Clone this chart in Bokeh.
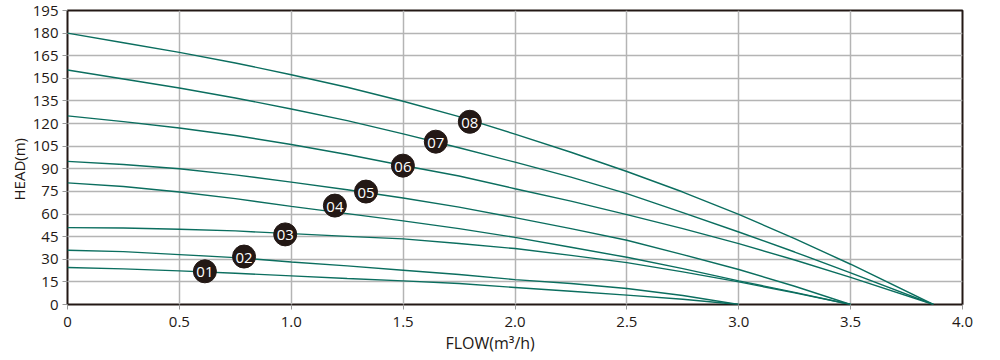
from bokeh.plotting import figure
from bokeh.models import Range1d, FixedTicker, Title, ColumnDataSource
from bokeh.core.properties import value
from bokeh.embed import file_html
from bokeh.resources import INLINE

# ---- data ----
flow_low = [0, 0.25, 0.5, 0.75, 1.0, 1.25, 1.5, 1.75, 2.0, 2.25, 2.5, 2.75, 3.0]
head_01 = [24.5, 23.6, 22.3, 20.7, 19, 17.2, 15.7, 13.9, 11.3, 8.8, 6.2, 3.5, 0]
head_02 = [36, 35.1, 33.1, 31.1, 28.2, 25.6, 22.7, 19.9, 16.5, 13.9, 10.6, 6, 0]

flow_mid = [0, 0.25, 0.5, 0.75, 1.0, 1.25, 1.5, 1.75, 2.0, 2.25, 2.5, 2.75, 3.0, 3.25, 3.5]
head_03 = [51, 50.7, 49.9, 48.8, 47, 45.2, 43.5, 40.5, 37.1, 32.6, 27.8, 21.6, 15, 7.7, 0]
head_04 = [80.7, 78.3, 74.6, 70.2, 65.1, 60.3, 55.5, 50.3, 44.5, 38, 31.3, 23.8, 15.7, 8, 0]
head_05 = [94.9, 92.9, 90, 86, 81.2, 76.1, 70.6, 64.6, 57.6, 50.3, 42.6, 33.1, 23.2, 12.1, 0]

flow_high = [0, 0.25, 0.5, 0.75, 1.0, 1.25, 1.5, 1.75, 2.0, 2.25, 2.5, 2.75, 3.0, 3.25, 3.5, 3.87]
head_06 = [125.1, 121.3, 117.1, 112.1, 106.1, 99.5, 92.2, 85.2, 76.8, 68.6, 59.6, 50.3, 40.4, 29.5, 18, 0]
head_07 = [155.5, 149.6, 143.6, 137, 129.7, 122, 113.2, 104, 94.4, 84.5, 73.5, 60.9, 48.1, 34.8, 21, 0]
head_08 = [180, 173.6, 167.2, 160.2, 152.4, 144.1, 134.8, 124.6, 113, 101, 88.2, 74.6, 59.8, 43.7, 26.7, 0]

label_names = ["01", "02", "03", "04", "05", "06", "07", "08"]
label_flow = [0.614, 0.789, 0.973, 1.195, 1.334, 1.499, 1.646, 1.798]
label_head = [22, 31.8, 46.5, 65.6, 74.9, 92.1, 108, 121.2]

x_ticks = [0, 0.5, 1.0, 1.5, 2.0, 2.5, 3.0, 3.5, 4.0]
x_tick_labels = ["0", "0.5", "1.0", "1.5", "2.0", "2.5", "3.0", "3.5", "4.0"]
y_ticks = list(range(0, 196, 15))

FONT = "Open Sans"
DARK = "#231815"
LINE = "#0b6e5f"
GRID = "#b4b4b4"

p = figure(width=986, height=354, x_range=Range1d(0, 4), y_range=Range1d(0, 195),
           output_backend="svg", toolbar_location=None,
           min_border_left=67, min_border_right=24, min_border_top=10, min_border_bottom=50)
p.background_fill_color = "white"
p.border_fill_color = "white"
p.outline_line_color = DARK
p.outline_line_width = 2

# grid
p.xgrid.ticker = FixedTicker(ticks=x_ticks)
p.ygrid.ticker = FixedTicker(ticks=y_ticks)
for g in (p.xgrid, p.ygrid):
    g.grid_line_color = GRID
    g.grid_line_width = 1.5

# axes
p.xaxis.ticker = FixedTicker(ticks=x_ticks)
p.xaxis.major_label_overrides = {t: s for t, s in zip(x_ticks, x_tick_labels)}
p.yaxis.ticker = FixedTicker(ticks=y_ticks)
for ax in (p.xaxis, p.yaxis):
    ax.axis_line_color = None
    ax.major_tick_line_color = "#999999"
    ax.major_tick_out = 5
    ax.major_tick_in = 0
    ax.minor_tick_line_color = None
    ax.major_label_text_font = FONT
    ax.major_label_text_font_size = "15px"
    ax.major_label_text_color = DARK
p.xaxis.major_label_standoff = 7
p.yaxis.major_label_standoff = 4

# axis titles (as panel titles so they can be placed like the reference)
p.add_layout(Title(text="FLOW(m³/h)", align="left", offset=378, standoff=0,
                   text_font=FONT, text_font_size="16px", text_font_style="normal",
                   text_color=DARK), "below")
p.add_layout(Title(text="HEAD(m)", align="left", offset=104, standoff=2,
                   text_font=FONT, text_font_size="15px", text_font_style="normal",
                   text_color=DARK), "left")

# curves
for xs, ys in [(flow_low, head_01), (flow_low, head_02),
               (flow_mid, head_03), (flow_mid, head_04), (flow_mid, head_05),
               (flow_high, head_06), (flow_high, head_07), (flow_high, head_08)]:
    p.line(xs, ys, line_color=LINE, line_width=1.4)

# numbered badges
src = ColumnDataSource(dict(x=label_flow, y=label_head, t=label_names))
p.scatter("x", "y", source=src, size=23, fill_color=DARK, line_color=DARK)
p.text("x", "y", text="t", source=src, text_color="white", text_align="center",
       text_baseline="middle", text_font=value(FONT), text_font_size="15px",
       y_offset=1)

open("out.html", "w").write(file_html(p, INLINE))
